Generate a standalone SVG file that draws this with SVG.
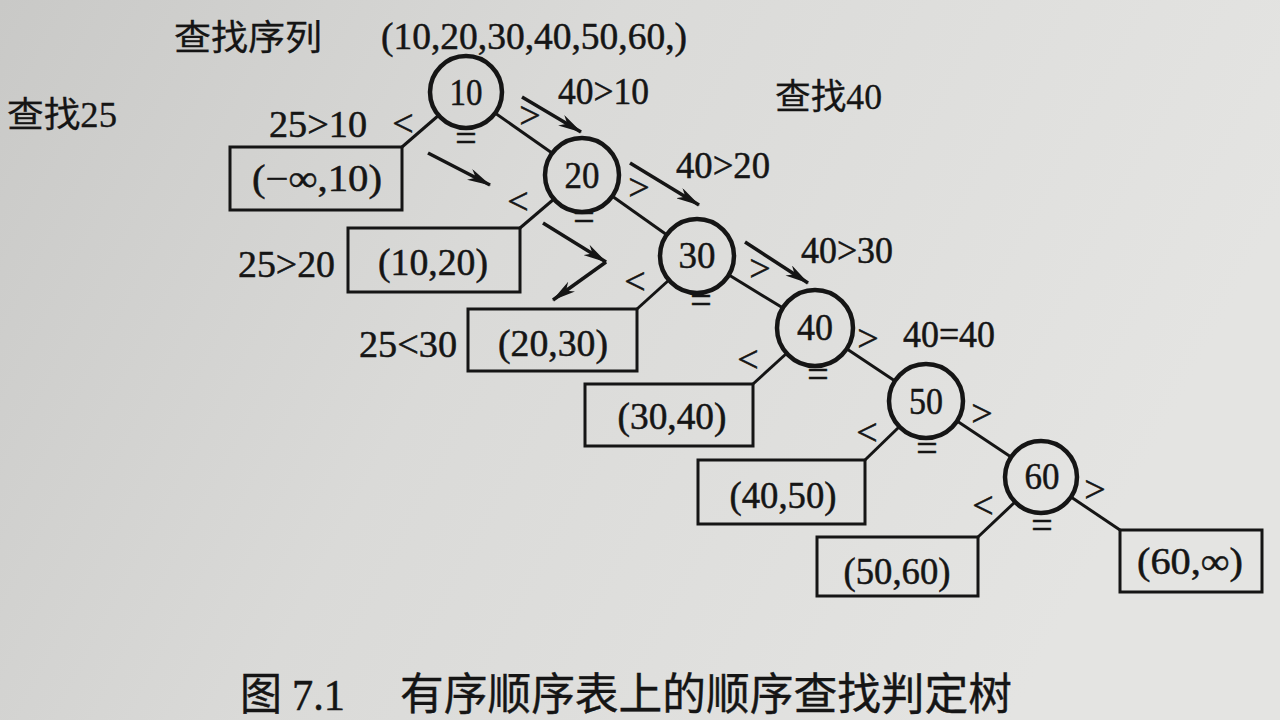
<svg xmlns="http://www.w3.org/2000/svg" width="1280" height="720" viewBox="0 0 1280 720">
<defs>
<linearGradient id="bg" x1="0" y1="0" x2="1" y2="0.3">
<stop offset="0" stop-color="#c9c9c7"/>
<stop offset="0.45" stop-color="#dadad8"/>
<stop offset="1" stop-color="#e4e4e2"/>
</linearGradient>
<marker id="ah" viewBox="0 0 24 12" markerWidth="24" markerHeight="12" refX="23" refY="6" orient="auto" markerUnits="userSpaceOnUse">
<path d="M0,0 L24,6 L0,12 L7,6 z" fill="#151515"/>
</marker>
<style>
.node circle{fill:none;stroke:#151515;stroke-width:4.5}
.leaf rect{fill:none;stroke:#151515;stroke-width:3}
.edge{stroke:#151515;stroke-width:3;fill:none}
.arrow{stroke:#151515;stroke-width:3.5;fill:none;marker-end:url(#ah)}
text{fill:#151515;stroke:#151515;stroke-width:0.5;font-family:"Liberation Serif","Noto Sans CJK SC",serif}
.num{font-size:38px;text-anchor:middle}
.lab{font-size:37px;text-anchor:middle}
.op{font-size:38px;text-anchor:middle}
.cmp{font-size:37px}
.cjk{font-size:35px;stroke-width:0.3}
</style>
</defs>
<rect x="0" y="0" width="1280" height="720" fill="url(#bg)"/>

<g id="connectors">
<line class="edge" x1="439" y1="115" x2="402" y2="147"/>
<line class="edge" x1="495" y1="113" x2="552" y2="153"/>
<line class="edge" x1="554" y1="199" x2="520" y2="228"/>
<line class="edge" x1="612" y1="196" x2="667" y2="235"/>
<line class="edge" x1="669" y1="280" x2="637" y2="309"/>
<line class="edge" x1="729" y1="275" x2="783" y2="308"/>
<line class="edge" x1="787" y1="353" x2="753" y2="384"/>
<line class="edge" x1="847" y1="349" x2="895" y2="381"/>
<line class="edge" x1="899" y1="427" x2="865" y2="460"/>
<line class="edge" x1="957" y1="421" x2="1011" y2="457"/>
<line class="edge" x1="1015" y1="502" x2="978" y2="537"/>
<line class="edge" x1="1071" y1="497" x2="1120" y2="530"/>
</g>

<g id="search-arrows">
<line class="arrow" x1="522" y1="97" x2="581" y2="132"/>
<line class="arrow" x1="630" y1="163" x2="699" y2="205"/>
<line class="arrow" x1="745" y1="242" x2="808" y2="283"/>
<line class="arrow" x1="428" y1="153" x2="490" y2="185"/>
<line class="arrow" x1="543" y1="223" x2="606" y2="262"/>
<line class="arrow" x1="606" y1="262" x2="553" y2="300"/>
</g>

<g id="n10" class="node"><circle cx="466" cy="92" r="36"/><text class="num" x="466" y="105" textLength="33" lengthAdjust="spacingAndGlyphs">10</text>
<text class="op" x="403" y="136">&lt;</text><text class="op" x="530" y="128">&gt;</text><text class="op" x="466" y="151">=</text></g>
<g id="n20" class="node"><circle cx="582" cy="175" r="37"/><text class="num" x="582" y="188" textLength="35" lengthAdjust="spacingAndGlyphs">20</text>
<text class="op" x="518" y="214">&lt;</text><text class="op" x="639" y="200">&gt;</text><text class="op" x="584" y="230">=</text></g>
<g id="n30" class="node"><circle cx="697" cy="256" r="37"/><text class="num" x="697" y="268" textLength="37" lengthAdjust="spacingAndGlyphs">30</text>
<text class="op" x="635" y="294">&lt;</text><text class="op" x="760" y="281">&gt;</text><text class="op" x="701" y="313">=</text></g>
<g id="n40" class="node"><circle cx="815" cy="328" r="38"/><text class="num" x="815" y="340" textLength="36" lengthAdjust="spacingAndGlyphs">40</text>
<text class="op" x="748" y="372">&lt;</text><text class="op" x="868" y="351">&gt;</text><text class="op" x="818" y="387">=</text></g>
<g id="n50" class="node"><circle cx="926" cy="401" r="37"/><text class="num" x="926" y="414" textLength="34" lengthAdjust="spacingAndGlyphs">50</text>
<text class="op" x="867" y="445">&lt;</text><text class="op" x="982" y="426">&gt;</text><text class="op" x="927" y="461">=</text></g>
<g id="n60" class="node"><circle cx="1041" cy="477" r="36"/><text class="num" x="1042" y="489" textLength="35" lengthAdjust="spacingAndGlyphs">60</text>
<text class="op" x="983" y="518">&lt;</text><text class="op" x="1095" y="502">&gt;</text><text class="op" x="1042" y="538">=</text></g>

<g id="b1" class="leaf"><rect x="230" y="147" width="172" height="63"/><text class="lab" x="317" y="191" textLength="130" lengthAdjust="spacingAndGlyphs">(−∞,10)</text></g>
<g id="b2" class="leaf"><rect x="348" y="228" width="172" height="64"/><text class="lab" x="433" y="275" textLength="110" lengthAdjust="spacingAndGlyphs">(10,20)</text></g>
<g id="b3" class="leaf"><rect x="468" y="309" width="169" height="62"/><text class="lab" x="553" y="356" textLength="110" lengthAdjust="spacingAndGlyphs">(20,30)</text></g>
<g id="b4" class="leaf"><rect x="585" y="384" width="168" height="62"/><text class="lab" x="672" y="429" textLength="109" lengthAdjust="spacingAndGlyphs">(30,40)</text></g>
<g id="b5" class="leaf"><rect x="698" y="460" width="167" height="64"/><text class="lab" x="783" y="508" textLength="107" lengthAdjust="spacingAndGlyphs">(40,50)</text></g>
<g id="b6" class="leaf"><rect x="817" y="537" width="161" height="59"/><text class="lab" x="897" y="584" textLength="107" lengthAdjust="spacingAndGlyphs">(50,60)</text></g>
<g id="b7" class="leaf"><rect x="1120" y="530" width="142" height="62"/><text class="lab" x="1190" y="574" textLength="106" lengthAdjust="spacingAndGlyphs">(60,∞)</text></g>

<g id="labels">
<text class="cjk" x="174" y="50" textLength="148" lengthAdjust="spacingAndGlyphs">查找序列</text>
<text class="cmp" x="381" y="49" textLength="306" lengthAdjust="spacingAndGlyphs">(10,20,30,40,50,60,)</text>
<text class="cjk" x="7" y="127" textLength="110" lengthAdjust="spacingAndGlyphs">查找25</text>
<text class="cjk" x="775" y="109" textLength="107" lengthAdjust="spacingAndGlyphs">查找40</text>
<text class="cmp" x="558" y="104" textLength="91" lengthAdjust="spacingAndGlyphs">40&gt;10</text>
<text class="cmp" x="269" y="137" textLength="98" lengthAdjust="spacingAndGlyphs">25&gt;10</text>
<text class="cmp" x="676" y="178" textLength="94" lengthAdjust="spacingAndGlyphs">40&gt;20</text>
<text class="cmp" x="238" y="277" textLength="97" lengthAdjust="spacingAndGlyphs">25&gt;20</text>
<text class="cmp" x="801" y="263" textLength="92" lengthAdjust="spacingAndGlyphs">40&gt;30</text>
<text class="cmp" x="359" y="357" textLength="98" lengthAdjust="spacingAndGlyphs">25&lt;30</text>
<text class="cmp" x="903" y="347" textLength="92" lengthAdjust="spacingAndGlyphs">40=40</text>
</g>

<g id="caption">
<text x="240" y="710" style="font-size:44px;stroke-width:0.4" textLength="42" lengthAdjust="spacingAndGlyphs">图</text>
<text x="292" y="710" style="font-size:44px" textLength="53" lengthAdjust="spacingAndGlyphs">7.1</text>
<text x="400" y="710" style="font-size:44px;stroke-width:0.4" textLength="612" lengthAdjust="spacingAndGlyphs">有序顺序表上的顺序查找判定树</text>
</g>
</svg>
